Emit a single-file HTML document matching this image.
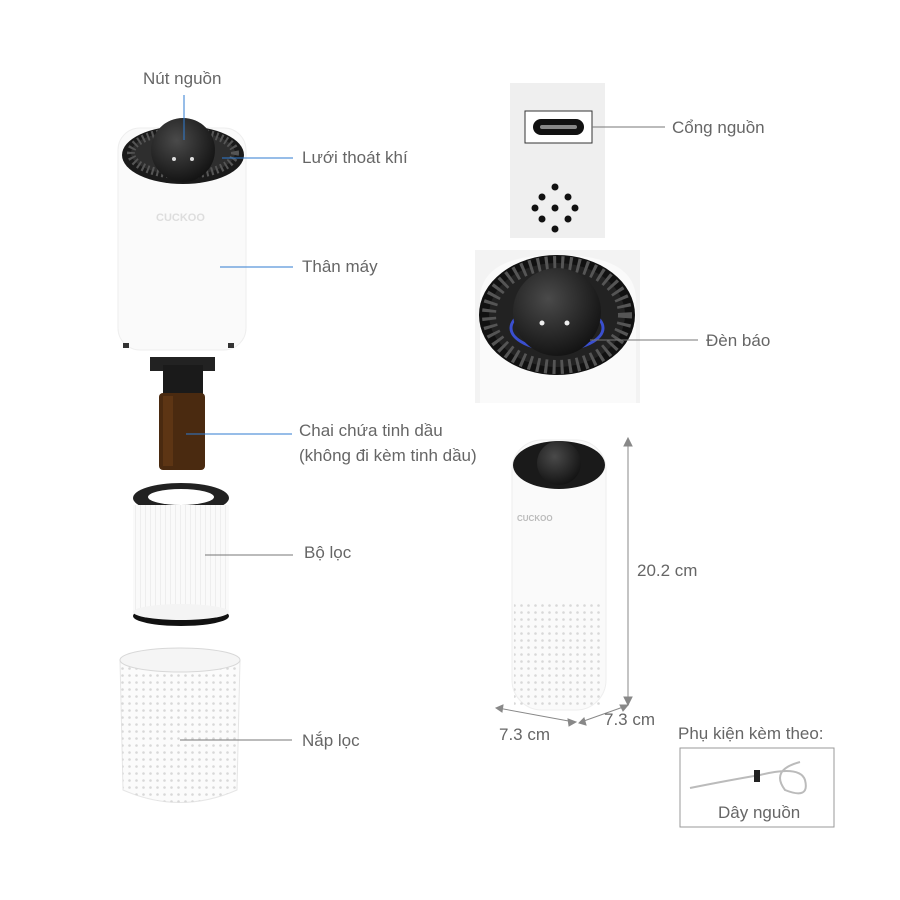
<!DOCTYPE html>
<html><head><meta charset="utf-8"><style>
body{margin:0;background:#fff;width:900px;height:900px;overflow:hidden;position:relative;font-family:"Liberation Sans",sans-serif;}
.t{position:absolute;font-size:17px;color:#666;white-space:nowrap;line-height:20px}
</style></head><body>
<svg width="900" height="900" style="position:absolute;left:0;top:0">
<defs>
<pattern id="dots" width="7" height="7" patternUnits="userSpaceOnUse"><circle cx="3.5" cy="3.5" r="1.3" fill="#d8d8d8"/></pattern>
<pattern id="pleat" width="5" height="10" patternUnits="userSpaceOnUse"><rect width="5" height="10" fill="#fafafa"/><line x1="0" y1="0" x2="0" y2="10" stroke="#e2e2e2"/></pattern>
<radialGradient id="dome" cx="0.4" cy="0.35" r="0.7"><stop offset="0" stop-color="#4a4a4a"/><stop offset="1" stop-color="#111"/></radialGradient>
</defs>
<rect x="118" y="128" width="128" height="222" rx="22" fill="#fafafa" stroke="#eee"/>
<ellipse cx="183" cy="155" rx="61" ry="29" fill="#1a1a1a"/>
<ellipse cx="183" cy="153" rx="52" ry="22" fill="#2e2e2e" stroke="#555" stroke-dasharray="2 3" stroke-width="8"/>
<circle cx="183" cy="150" r="32" fill="url(#dome)"/>
<circle cx="174" cy="159" r="2" fill="#ddd"/><circle cx="192" cy="159" r="2" fill="#ddd"/>
<text x="156" y="221" font-size="11" font-weight="bold" fill="#ddd" font-family="Liberation Sans">CUCKOO</text>
<rect x="123" y="343" width="6" height="5" fill="#333"/><rect x="228" y="343" width="6" height="5" fill="#333"/>
<rect x="150" y="357" width="65" height="14" fill="#222"/>
<rect x="163" y="365" width="40" height="30" fill="#1a1a1a"/>
<rect x="159" y="393" width="46" height="77" rx="4" fill="#4a2a10"/>
<rect x="163" y="396" width="10" height="70" fill="#6a3e18" opacity=".6"/>
<ellipse cx="181" cy="498" rx="48" ry="15" fill="#222"/>
<ellipse cx="181" cy="497" rx="33" ry="8" fill="#fff"/>
<rect x="133" y="505" width="96" height="110" fill="url(#pleat)"/>
<ellipse cx="181" cy="616" rx="48" ry="10" fill="#111"/>
<ellipse cx="181" cy="612" rx="48" ry="8" fill="#f4f4f4"/>
<path d="M120 660 Q180 640 240 660 L237 790 Q180 815 123 790 Z" fill="#fbfbfb" stroke="#e6e6e6"/>
<path d="M120 660 Q180 640 240 660 L237 790 Q180 815 123 790 Z" fill="url(#dots)"/>
<ellipse cx="180" cy="660" rx="60" ry="12" fill="#f5f5f5" stroke="#d8d8d8"/>
<g stroke="#2f7bd0" stroke-width="1">
<line x1="184" y1="95" x2="184" y2="140"/>
<line x1="222" y1="158" x2="293" y2="158"/>
<line x1="220" y1="267" x2="293" y2="267"/>
<line x1="186" y1="434" x2="292" y2="434"/>
</g>
<g stroke="#777" stroke-width="1">
<line x1="205" y1="555" x2="293" y2="555"/>
<line x1="180" y1="740" x2="292" y2="740"/>
</g>
<rect x="510" y="83" width="95" height="155" fill="#efefef"/>
<rect x="525" y="111" width="67" height="32" fill="#fff" stroke="#333"/>
<rect x="533" y="119" width="51" height="16" rx="8" fill="#111"/>
<rect x="540" y="125" width="37" height="4" rx="2" fill="#888"/>
<g fill="#111"><circle cx="555" cy="187" r="3.5"/><circle cx="542" cy="197" r="3.5"/><circle cx="568" cy="197" r="3.5"/><circle cx="535" cy="208" r="3.5"/><circle cx="555" cy="208" r="3.5"/><circle cx="575" cy="208" r="3.5"/><circle cx="542" cy="219" r="3.5"/><circle cx="568" cy="219" r="3.5"/><circle cx="555" cy="229" r="3.5"/></g>
<line x1="592" y1="127" x2="665" y2="127" stroke="#777"/>
<rect x="475" y="250" width="165" height="153" fill="#f3f3f3"/>
<path d="M480 403 L480 300 Q480 255 557 255 Q636 255 636 300 L636 403 Z" fill="#fafafa"/>
<ellipse cx="557" cy="315" rx="78" ry="60" fill="#111"/>
<ellipse cx="557" cy="315" rx="68" ry="52" fill="#222" stroke="#555" stroke-dasharray="3 5" stroke-width="14"/>
<ellipse cx="557" cy="328" rx="46" ry="22" fill="none" stroke="#3a4fcf" stroke-width="3"/>
<circle cx="557" cy="312" r="44" fill="url(#dome)"/>
<circle cx="542" cy="323" r="2.5" fill="#eee"/><circle cx="567" cy="323" r="2.5" fill="#eee"/>
<line x1="590" y1="340" x2="698" y2="340" stroke="#777"/>
<rect x="512" y="440" width="94" height="270" rx="30" fill="#fafafa" stroke="#eee"/>
<rect x="514" y="600" width="90" height="105" fill="url(#dots)"/>
<ellipse cx="559" cy="465" rx="46" ry="24" fill="#1a1a1a"/>
<circle cx="559" cy="463" r="22" fill="url(#dome)"/>
<text x="517" y="521" font-size="8" font-weight="bold" fill="#bbb" font-family="Liberation Sans">CUCKOO</text>
<g stroke="#888" stroke-width="1" fill="#888">
<line x1="628" y1="440" x2="628" y2="703"/>
<path d="M624 446 L628 438 L632 446 Z"/><path d="M624 697 L628 705 L632 697 Z"/>
<line x1="498" y1="708" x2="574" y2="722"/>
<path d="M503 705 L496 708 L502 712 Z"/><path d="M568 719 L576 722 L569 726 Z"/>
<line x1="581" y1="722" x2="626" y2="706"/>
<path d="M584 718 L579 723 L586 725 Z"/><path d="M620 705 L628 705 L623 711 Z"/>
</g>
<rect x="680" y="748" width="154" height="79" fill="#fff" stroke="#999"/>
<path d="M690 788 Q730 780 760 775 Q800 765 805 780 Q810 800 785 790 Q770 770 800 762" fill="none" stroke="#bbb" stroke-width="2"/>
<rect x="754" y="770" width="6" height="12" fill="#222"/>
</svg>
<div class="t" style="left:143px;top:69px">Nút nguồn</div>
<div class="t" style="left:302px;top:148px">Lưới thoát khí</div>
<div class="t" style="left:302px;top:257px">Thân máy</div>
<div class="t" style="left:299px;top:421px">Chai chứa tinh dầu</div>
<div class="t" style="left:299px;top:446px">(không đi kèm tinh dầu)</div>
<div class="t" style="left:304px;top:543px">Bộ lọc</div>
<div class="t" style="left:302px;top:731px">Nắp lọc</div>
<div class="t" style="left:672px;top:118px">Cổng nguồn</div>
<div class="t" style="left:706px;top:331px">Đèn báo</div>
<div class="t" style="left:637px;top:561px">20.2 cm</div>
<div class="t" style="left:499px;top:725px">7.3 cm</div>
<div class="t" style="left:604px;top:710px">7.3 cm</div>
<div class="t" style="left:678px;top:724px">Phụ kiện kèm theo:</div>
<div class="t" style="left:718px;top:803px">Dây nguồn</div>
</body></html>
